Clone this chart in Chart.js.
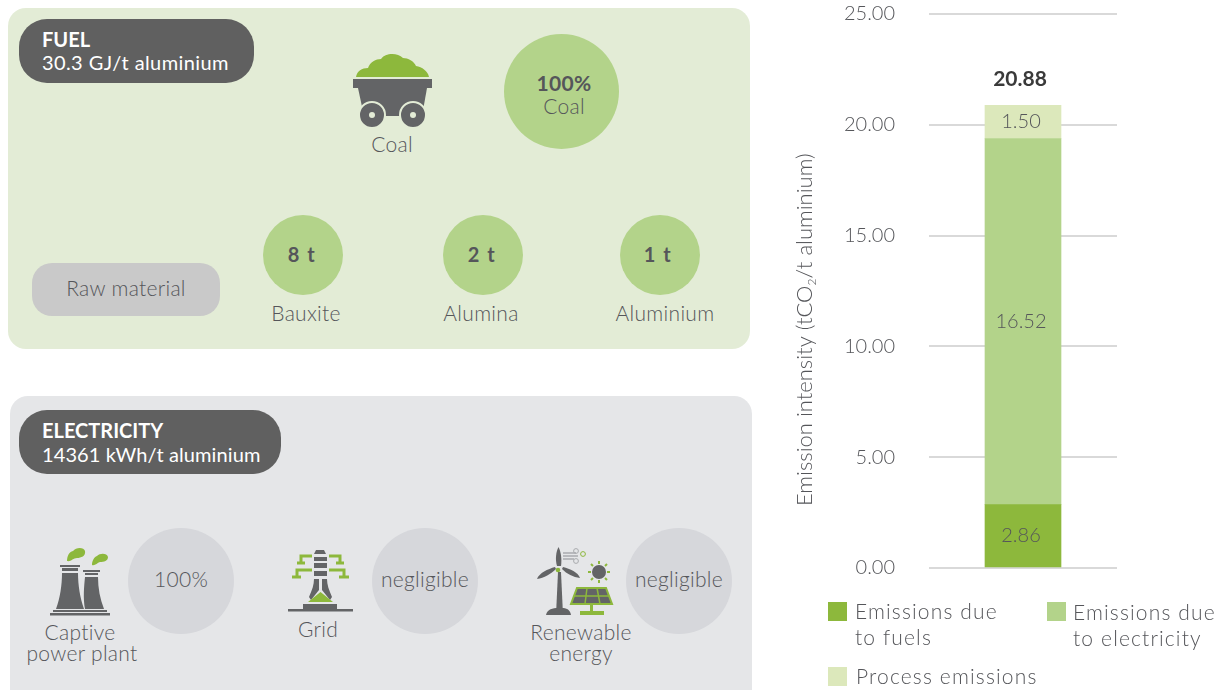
<!DOCTYPE html>
<html>
<head>
<meta charset="utf-8">
<title>Emission intensity</title>
<script src="https://cdn.jsdelivr.net/npm/chart.js@4"></script>
<style>
    html, body { margin: 0; padding: 0; background: #fff; }
    #page { position: relative; width: 1221px; height: 690px; overflow: hidden; font-family: Lato, sans-serif; font-weight: 300; color: #55565a; }
    .box { position: absolute; }
    .round { position: absolute; border-radius: 50%; }
    .t { position: absolute; font-size: 21px; line-height: 24px; letter-spacing: .3px; white-space: nowrap; transform: translate(-50%, -50%); text-align: center; }
    .l { position: absolute; font-size: 20px; line-height: 24px; white-space: nowrap; }
    .green { background: #b3d38a; }
    .grey { background: #d6d7db; }
    #icons { position: absolute; left: 0; top: 0; }
    #chartWrap { position: absolute; left: 780px; top: 0; width: 441px; height: 690px; }
    .swatch { position: absolute; width: 19px; height: 19px; }
    .legendText { position: absolute; font-size: 21px; line-height: 26px; letter-spacing: 1.15px; width: 170px; }
</style>
</head>
<body>
<div id="page">
    <!-- fuel panel -->
    <div class="box" style="left:8px;top:8px;width:742px;height:341px;background:#e3ecd6;border-radius:18px"></div>
    <div class="box" style="left:19px;top:19px;width:235px;height:64px;background:#606060;border-radius:28px"></div>
    <div class="l" style="left:42px;top:27px;color:#fff;font-weight:700">FUEL</div>
    <div class="l" style="left:42px;top:50px;color:#fff;font-weight:400;letter-spacing:.4px">30.3 GJ/t aluminium</div>
    <div class="round green" style="left:504px;top:34px;width:115px;height:115px"></div>
    <div class="t" style="left:564px;top:83px;font-weight:700">100%</div>
    <div class="t" style="left:564px;top:106px">Coal</div>
    <div class="t" style="left:392px;top:144px">Coal</div>
    <div class="box" style="left:32px;top:263px;width:188px;height:53px;background:#c9c9c9;border-radius:20px"></div>
    <div class="t" style="left:126px;top:288px">Raw material</div>
    <div class="round green" style="left:263px;top:215px;width:80px;height:80px"></div>
    <div class="round green" style="left:443px;top:215px;width:80px;height:80px"></div>
    <div class="round green" style="left:620px;top:215px;width:80px;height:80px"></div>
    <div class="t" style="left:302px;top:254px;font-size:20px;font-weight:700;letter-spacing:1.5px">8 t</div>
    <div class="t" style="left:482px;top:254px;font-size:20px;font-weight:700;letter-spacing:1.5px">2 t</div>
    <div class="t" style="left:658px;top:254px;font-size:20px;font-weight:700;letter-spacing:1.5px">1 t</div>
    <div class="t" style="left:306px;top:313px">Bauxite</div>
    <div class="t" style="left:481px;top:313px">Alumina</div>
    <div class="t" style="left:665px;top:313px">Aluminium</div>

    <!-- electricity panel -->
    <div class="box" style="left:10px;top:396px;width:742px;height:320px;background:#e5e6e8;border-radius:18px"></div>
    <div class="box" style="left:19px;top:410px;width:262px;height:64px;background:#606060;border-radius:28px"></div>
    <div class="l" style="left:42px;top:418px;color:#fff;font-weight:700">ELECTRICITY</div>
    <div class="l" style="left:42px;top:442px;color:#fff;font-weight:400;letter-spacing:.1px">14361 kWh/t aluminium</div>
    <div class="round grey" style="left:128px;top:528px;width:106px;height:106px"></div>
    <div class="round grey" style="left:372px;top:528px;width:106px;height:106px"></div>
    <div class="round grey" style="left:626px;top:528px;width:106px;height:106px"></div>
    <div class="t" style="left:181px;top:579px">100%</div>
    <div class="t" style="left:425px;top:579px">negligible</div>
    <div class="t" style="left:679px;top:579px">negligible</div>
    <div class="t" style="left:80px;top:632px">Captive</div>
    <div class="t" style="left:82px;top:653px">power plant</div>
    <div class="t" style="left:318px;top:629px">Grid</div>
    <div class="t" style="left:581px;top:632px">Renewable</div>
    <div class="t" style="left:581px;top:653px">energy</div>

    <!-- icons -->
    <svg id="icons" width="1221" height="690" viewBox="0 0 1221 690">
        <!-- coal cart -->
        <path d="M356 77 C357 71 362 68 368 68 C370 62 376 59 381 59 C385 53 397 52 403 58 C408 58 414 61 416 66 C422 67 428 71 429 77 Z" fill="#8db83c"/>
        <rect x="353" y="79" width="79" height="9" fill="#636466"/>
        <path d="M358 88 L427 88 L422 116 L364 116 Z" fill="#636466"/>
        <circle cx="372" cy="115" r="13" fill="#636466" stroke="#e3ecd6" stroke-width="2"/>
        <circle cx="413" cy="115" r="13" fill="#636466" stroke="#e3ecd6" stroke-width="2"/>
        <circle cx="372" cy="115" r="3" fill="#e3ecd6"/>
        <circle cx="413" cy="115" r="3" fill="#e3ecd6"/>

        <!-- power plant -->
        <rect x="60" y="565" width="20" height="2" fill="#636466"/>
        <rect x="62" y="568" width="16" height="3" fill="#636466"/>
        <path d="M62 573 L78 573 C78 585 80 598 84 609 L56 609 C60 598 62 585 62 573 Z" fill="#636466"/>
        <rect x="83" y="570" width="17" height="2" fill="#636466"/>
        <rect x="85" y="573" width="13" height="2" fill="#636466"/>
        <path d="M85 577 L98 577 C98 588 100 599 104 609 L85 609 C83 598 84 587 85 577 Z" fill="#636466"/>
        <rect x="53" y="610" width="54" height="2" fill="#636466"/>
        <rect x="50" y="613" width="60" height="2.5" fill="#636466"/>
        <path d="M67 561 C67 556 69 552 73 551 C76 547 84 547 85 551 C86 556 81 558 77 558 C73 558 71 562 67 561 Z" fill="#8db83c"/>
        <path d="M92 565 C92 561 94 557 97 556 C100 553 107 553 108 557 C108 561 104 562 100 562 C97 563 95 566 92 565 Z" fill="#8db83c"/>

        <!-- grid tower -->
        <path d="M316 550 L324 550 L326 554 L314 554 Z" fill="#636466"/>
        <rect x="314" y="557" width="13" height="4" fill="#636466"/>
        <rect x="314" y="563" width="13" height="5" fill="#636466"/>
        <rect x="314" y="571" width="13" height="5" fill="#636466"/>
        <path d="M314 579 L319 579 L319 590 L311 600 L309 597 C312 590 314 585 314 579 Z" fill="#636466"/>
        <path d="M327 579 L322 579 L322 590 L330 600 L332 597 C329 590 327 585 327 579 Z" fill="#636466"/>
        <path d="M308 602 L320.5 592 L333 602 Z" fill="#8db83c"/>
        <rect x="303" y="604" width="34" height="5" fill="#636466"/>
        <rect x="288" y="609" width="65" height="2.5" fill="#636466"/>
        <path d="M312 556 L301 556 L301 563 M297 563 L305 563 M312 570 L297 570 L297 577 M292 577 L301 577 M329 556 L340 556 L340 563 M336 563 L344 563 M329 570 L344 570 L344 577 M339 577 L349 577" fill="none" stroke="#8db83c" stroke-width="3"/>

        <!-- wind and solar -->
        <path d="M556 615 L558 572 L561 572 L563 615 Z" fill="#636466"/>
        <path d="M546 615 C547 609 553 608 558 608 L562 608 C566 608 570 609 571 615 Z" fill="#636466"/>
        <path d="M557 566 C555 559 556 552 558.5 547 C561 552 562 559 561 566 Z" fill="#636466"/>
        <path d="M556 569 C551 574 544 578 537 579 C539 573 548 569 555 567 Z" fill="#636466"/>
        <path d="M562 569 C567 574 573 577 580 578 C578 572 570 569 563 567 Z" fill="#636466"/>
        <circle cx="558" cy="570" r="2.3" fill="#8db83c"/>
        <path d="M563 553 L576 553 M563 556 L578 556 M563 559 L574 559" stroke="#a9abae" stroke-width="1.4" fill="none"/>
        <circle cx="576" cy="551" r="2.4" fill="none" stroke="#a9abae" stroke-width="1"/>
        <circle cx="583" cy="554" r="2.4" fill="none" stroke="#8db83c" stroke-width="1"/>
        <circle cx="576" cy="561" r="2.4" fill="none" stroke="#a9abae" stroke-width="1"/>
        <circle cx="599" cy="572" r="7" fill="#636466"/>
        <path d="M599 561 L599 564 M599 580 L599 583 M588 572 L591 572 M607 572 L610 572 M591 564 L593 566 M605 578 L607 580 M607 564 L605 566 M593 578 L591 580" stroke="#8db83c" stroke-width="2"/>
        <path d="M577 588 L606 588 L612 604 L571 604 Z" fill="#636466" stroke="#8db83c" stroke-width="2"/>
        <path d="M587 588 L585 604 M597 588 L600 604 M574 596 L609 596" stroke="#8db83c" stroke-width="1.5"/>
        <rect x="590" y="604" width="3" height="8" fill="#8db83c"/>
        <rect x="580" y="611" width="24" height="4" fill="#8db83c"/>
    </svg>

    <!-- emissions chart -->
    <div id="chartWrap"><canvas id="emissionChart" width="441" height="690"></canvas></div>
    <div id="legendBox"></div>
</div>

<script>
// Values
const categories = [''];
const seriesNames = ['Emissions due to fuels', 'Emissions due to electricity', 'Process emissions'];
const fuelValues = [2.86];
const electricityValues = [16.52];
const processValues = [1.50];
const totals = [20.88];
const seriesColors = ['#8db83c', '#b3d38a', '#dce8bb'];
const legendSpots = [[828, 602, 855, 598], [1047, 602, 1073, 599], [828, 667, 856, 663]];

const tickFont = { family: 'Lato', size: 20, weight: '300' };

// numbers in the middle of each segment, and the total above the stack
const stackLabels = {
    id: 'stackLabels',
    afterDatasetsDraw(chart) {
        const ctx = chart.ctx;
        ctx.save();
        ctx.textAlign = 'center';
        ctx.textBaseline = 'middle';
        chart.data.datasets.forEach((ds, i) => {
            const bar = chart.getDatasetMeta(i).data[0];
            ctx.font = '300 20px Lato';
            ctx.fillStyle = '#55565a';
            ctx.fillText(ds.data[0].toFixed(2), bar.x - 2, (bar.y + bar.base) / 2);
        });
        const topBar = chart.getDatasetMeta(2).data[0];
        ctx.font = 'bold 21px Lato';
        ctx.fillStyle = '#3a3a3a';
        ctx.fillText(totals[0].toFixed(2), topBar.x - 3, chart.scales.y.getPixelForValue(totals[0]) - 26);
        ctx.restore();
    }
};

// axis title is drawn by hand because of the subscript 2
const axisTitle = {
    id: 'axisTitle',
    afterDraw(chart) {
        const ctx = chart.ctx;
        ctx.save();
        ctx.translate(32, 506);
        ctx.rotate(-Math.PI / 2);
        ctx.fillStyle = '#55565a';
        ctx.textAlign = 'left';
        ctx.textBaseline = 'alphabetic';
        let x = 0;
        const parts = [['Emission intensity (tCO', 22, 0], ['2', 12, 4], ['/t aluminium)', 22, 0]];
        parts.forEach(p => {
            ctx.font = '300 ' + p[1] + 'px Lato';
            ctx.fillText(p[0], x, p[2]);
            x += ctx.measureText(p[0]).width;
        });
        ctx.restore();
    }
};

new Chart(document.getElementById('emissionChart').getContext('2d'), {
    type: 'bar',
    data: {
        labels: categories,
        datasets: [
            { label: seriesNames[0], data: fuelValues, backgroundColor: seriesColors[0], barThickness: 76 },
            { label: seriesNames[1], data: electricityValues, backgroundColor: seriesColors[1], barThickness: 76 },
            { label: seriesNames[2], data: processValues, backgroundColor: seriesColors[2], barThickness: 76 },
        ],
    },
    options: {
        responsive: false,
        animation: false,
        layout: { padding: { top: 14, bottom: 122, right: 104, left: 0 } },
        plugins: { legend: { display: false }, tooltip: { enabled: false } },
        scales: {
            x: { stacked: true, display: false },
            y: {
                stacked: true,
                min: 0,
                max: 25,
                // tick padding would otherwise push the top of the axis down
                afterFit(scale) { scale.width = 149; scale.paddingTop = 0; scale.paddingBottom = 0; },
                border: { display: false },
                grid: { color: '#d9d9d9', lineWidth: 2, drawTicks: false },
                ticks: {
                    stepSize: 5,
                    padding: 34,
                    color: '#55565a',
                    font: tickFont,
                    callback: value => value.toFixed(2),
                },
            },
        },
    },
    plugins: [stackLabels, axisTitle],
});

// legend sits around the chart in an uneven layout, so it is plain html
const legendBox = document.getElementById('legendBox');
seriesNames.forEach((name, i) => {
    const spot = legendSpots[i];
    const swatch = document.createElement('div');
    swatch.className = 'swatch';
    swatch.style.cssText = `left:${spot[0]}px;top:${spot[1]}px;background:${seriesColors[i]}`;
    const text = document.createElement('div');
    text.className = 'legendText';
    text.style.cssText = `left:${spot[2]}px;top:${spot[3]}px;` + (i === 2 ? 'width:260px' : 'width:150px');
    text.textContent = name;
    legendBox.appendChild(swatch);
    legendBox.appendChild(text);
});
</script>
</body>
</html>
